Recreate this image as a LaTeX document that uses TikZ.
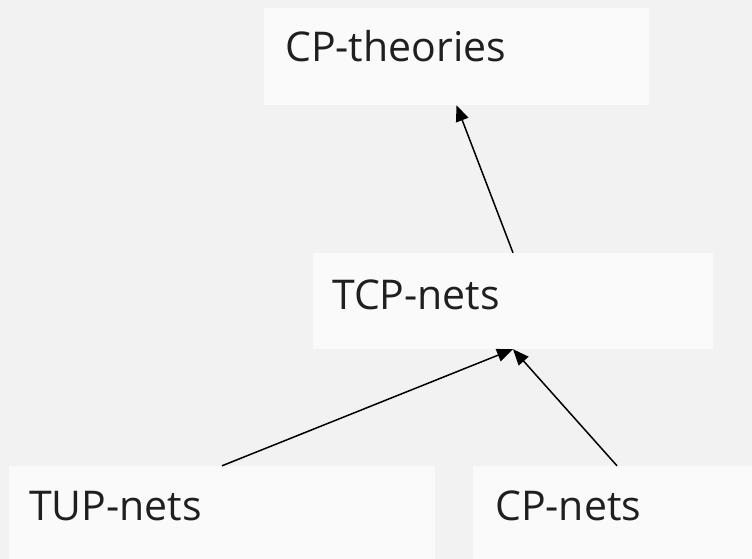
\documentclass[tikz,border=0pt]{standalone}
\usepackage{fontspec}
\setmainfont{Open Sans}
\usetikzlibrary{arrows.meta}
\definecolor{bgc}{HTML}{F2F2F2}
\definecolor{boxc}{HTML}{FAFAFA}
\tikzset{
  box/.style={fill=boxc, draw=none, inner sep=0pt, minimum width=#1},
  lbl/.style={anchor=base west, inner sep=0pt, font=\fontsize{41}{48}\selectfont, text=black!88},
  conn/.style={line width=1.5pt, -{Triangle[length=16pt,width=13pt]}, shorten >=0pt}
}
\begin{document}
\begin{tikzpicture}[x=1pt,y=-1pt]
\useasboundingbox (0,0) rectangle (752,559);
\fill[bgc] (0,0) rectangle (752,559);
\node[box=385pt, minimum height=97pt] (cpt) at (456.5,56.5) {};
\node[box=400pt, minimum height=96pt] (tcp) at (513,301) {};
\node[box=426pt, minimum height=110pt] (tup) at (222,521) {};
\node[box=288pt, minimum height=110pt] (cpn) at (617,521) {};
\node[lbl] (tcpt) at (285,62) {CP-theories};
\node[lbl] (ttcp) at (332,309) {TCP-nets};
\node[lbl] (ttup) at (29,520) {TUP-nets};
\node[lbl] (tcpn) at (495,520) {CP-nets};
\draw[conn] (tcp.north) -- (cpt.south);
\draw[conn] (tup.north) -- (tcp.south);
\draw[conn] (cpn.north) -- (tcp.south);
\end{tikzpicture}
\end{document}
